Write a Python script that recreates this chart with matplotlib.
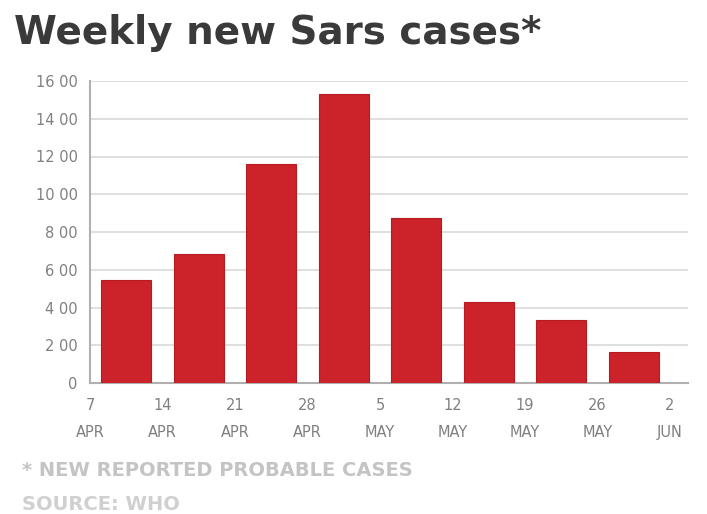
import matplotlib
matplotlib.use("Agg")
import matplotlib.pyplot as plt
import numpy as np

weeks = ["7\nAPR", "14\nAPR", "21\nAPR", "28\nAPR", "5\nMAY", "12\nMAY", "19\nMAY", "26\nMAY", "2\nJUN"]
cases = [546, 683, 1160, 1531, 874, 429, 334, 164]
yticks = [0, 200, 400, 600, 800, 1000, 1200, 1400, 1600]
ytick_labels = ["0", "2 00", "4 00", "6 00", "8 00", "10 00", "12 00", "14 00", "16 00"]

fig = plt.figure(figsize=(7.07, 5.14), dpi=100)
ax = fig.add_axes([90/707, 1-383/514, (688-90)/707, (383-81)/514])

x = np.arange(len(cases)) + 0.5
ax.bar(x, cases, width=0.69, color="#cc2229", edgecolor="#b51c22", linewidth=0.8, zorder=3)

ax.set_ylim(0, 1600)
ax.set_xlim(0.03, 8.25)
ax.set_yticks(yticks)
ax.set_yticklabels(ytick_labels, fontsize=10.5, color="#808080")
ax.set_xticks(np.arange(len(weeks)))
ax.set_xticklabels(weeks, fontsize=10.5, color="#808080", linespacing=2.0)
ax.tick_params(axis="x", length=0, pad=11)
ax.tick_params(axis="y", length=0, pad=9)

ax.grid(axis="y", color="#d9d9d9", linewidth=1.2, zorder=0)
for s in ["top", "right"]:
    ax.spines[s].set_visible(False)
ax.spines["left"].set_color("#b0b0b0")
ax.spines["left"].set_linewidth(1.5)
ax.spines["bottom"].set_color("#b0b0b0")
ax.spines["bottom"].set_linewidth(1.5)

fig.text(14/707, 1-33/514, "Weekly new Sars cases*", fontsize=28, fontweight="bold",
         color="#3a3a3a", va="center", ha="left")
fig.text(22/707, 1-470/514, "* NEW REPORTED PROBABLE CASES", fontsize=14, fontweight="bold",
         color="#c4c4c4", va="center", ha="left")
fig.text(22/707, 1-505/514, "SOURCE: WHO", fontsize=14, fontweight="bold",
         color="#d0d0d0", va="center", ha="left")

fig.savefig("out.png", dpi=100)
